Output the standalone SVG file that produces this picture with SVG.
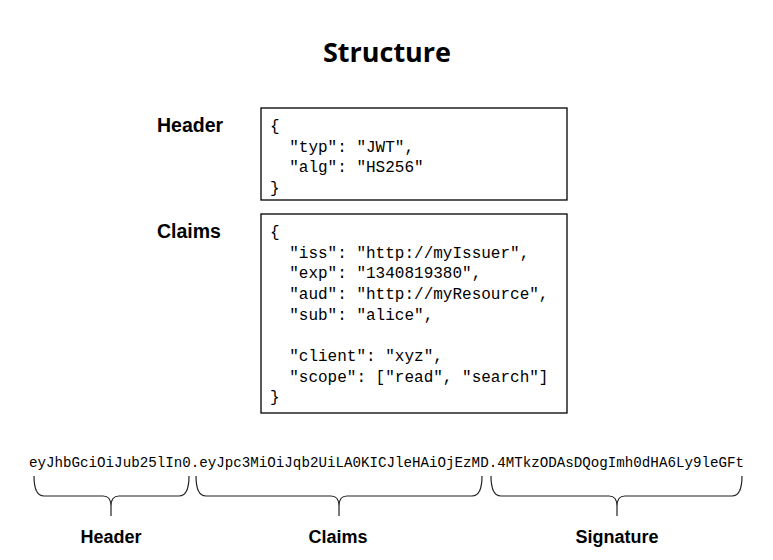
<svg xmlns="http://www.w3.org/2000/svg" width="773" height="560" viewBox="0 0 773 560">
<style>
.title{font-family:"Open Sans","Liberation Sans",sans-serif;font-weight:bold;font-size:27px;fill:#000}
.lbl{font-family:"Liberation Sans",Arial,sans-serif;font-weight:bold;font-size:18px;fill:#000}
.side{font-size:19.5px}
.code{font-family:"Liberation Mono","DejaVu Sans Mono",monospace;font-size:16px;fill:#000;white-space:pre}
.tok{font-family:"Liberation Mono","DejaVu Sans Mono",monospace;font-size:14.2px;fill:#000}
.box{fill:#fff;stroke:#000;stroke-width:1.3}
.brace{fill:none;stroke:#222;stroke-width:1.2}
</style>
<rect width="773" height="560" fill="#fff"/>
<text class="title" x="387" y="62" text-anchor="middle">Structure</text>
<g id="header-node">
<text class="lbl side" x="157" y="132">Header</text>
<rect class="box" x="261" y="108" width="306" height="92"/>
<text class="code" xml:space="preserve"><tspan x="270" y="131">{</tspan><tspan x="270" y="152">  "typ": "JWT",</tspan><tspan x="270" y="172">  "alg": "HS256"</tspan><tspan x="270" y="193">}</tspan></text>
</g>
<g id="claims-node">
<text class="lbl side" x="157" y="238">Claims</text>
<rect class="box" x="261" y="214" width="306" height="199"/>
<text class="code" xml:space="preserve"><tspan x="270" y="237">{</tspan><tspan x="270" y="258">  "iss": "http://myIssuer",</tspan><tspan x="270" y="278">  "exp": "1340819380",</tspan><tspan x="270" y="299">  "aud": "http://myResource",</tspan><tspan x="270" y="320">  "sub": "alice",</tspan><tspan x="270" y="361">  "client": "xyz",</tspan><tspan x="270" y="382">  "scope": ["read", "search"]</tspan><tspan x="270" y="402">}</tspan></text>
</g>
<g id="token">
<text class="tok" x="29" y="467" textLength="715" lengthAdjust="spacingAndGlyphs">eyJhbGciOiJub25lIn0.eyJpc3MiOiJqb2UiLA0KICJleHAiOjEzMD.4MTkzODAsDQogImh0dHA6Ly9leGFt</text>
</g>
<g id="connectors">
<path class="brace" d="M34,476 Q34,496 44,496 H103 Q111,496 111,506 V516 M111,506 Q111,496 119,496 H179 Q189,496 189,476"/>
<path class="brace" d="M196,476 Q196,496 206,496 H331 Q339,496 339,506 V516 M339,506 Q339,496 347,496 H472 Q482,496 482,476"/>
<path class="brace" d="M491,476 Q491,496 501,496 H609 Q617,496 617,506 V516 M617,506 Q617,496 625,496 H732 Q742,496 742,476"/>
</g>
<g id="label-header"><text class="lbl" x="111" y="543" text-anchor="middle" font-size="17">Header</text></g>
<g id="label-claims"><text class="lbl" x="338" y="543" text-anchor="middle">Claims</text></g>
<g id="label-signature"><text class="lbl" x="617" y="543" text-anchor="middle">Signature</text></g>
</svg>
